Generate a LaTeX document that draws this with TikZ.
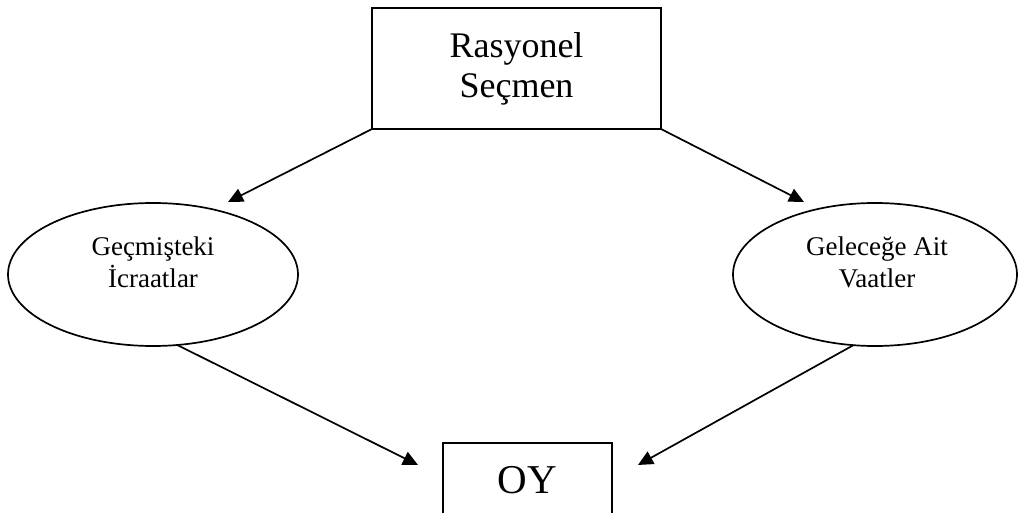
\documentclass[tikz,border=0pt]{standalone}
\usepackage{fontspec}
\setmainfont{Liberation Serif}
\usetikzlibrary{shapes.geometric,arrows.meta}
\begin{document}
\begin{tikzpicture}[x=1pt,y=-1pt,
  every node/.style={inner sep=0pt,outer sep=0pt},
  boxnode/.style={draw,line width=1.7pt,rectangle},
  ellnode/.style={draw,line width=1.7pt,ellipse},
  conn/.style={line width=1.7pt,-{Triangle[length=15pt,width=14pt]}}]
\useasboundingbox (0,0) rectangle (1018,513);
\node[boxnode,minimum width=289pt,minimum height=121pt,align=center,
  font=\fontsize{36}{40}\selectfont] (rs) at (516.5,68.5) {Rasyonel\\Seçmen};
\node[ellnode,minimum width=290pt,minimum height=143pt] (gec) at (153,274.5) {};
\node[font=\fontsize{27}{32}\selectfont,align=center] (gect) at (153,262) {Geçmişteki\\İcraatlar};
\node[ellnode,minimum width=284pt,minimum height=143pt] (gel) at (875,274.5) {};
\node[font=\fontsize{27}{32}\selectfont,align=center] (gelt) at (877,262) {Geleceğe Ait\\Vaatler};
\node[boxnode,minimum width=169pt,minimum height=74pt,
  font=\fontsize{41}{46}\selectfont] (oy) at (527.5,480) {OY};
\coordinate (t1) at (228,202);
\coordinate (t2) at (804,202);
\coordinate (t3) at (418,465);
\coordinate (t4) at (638,465);
\draw[conn] (rs.south west) -- (t1);
\draw[conn] (rs.south east) -- (t2);
\draw[conn] (gec.-71) -- (t3);
\draw[conn] (gel.-107) -- (t4);
\end{tikzpicture}
\end{document}
